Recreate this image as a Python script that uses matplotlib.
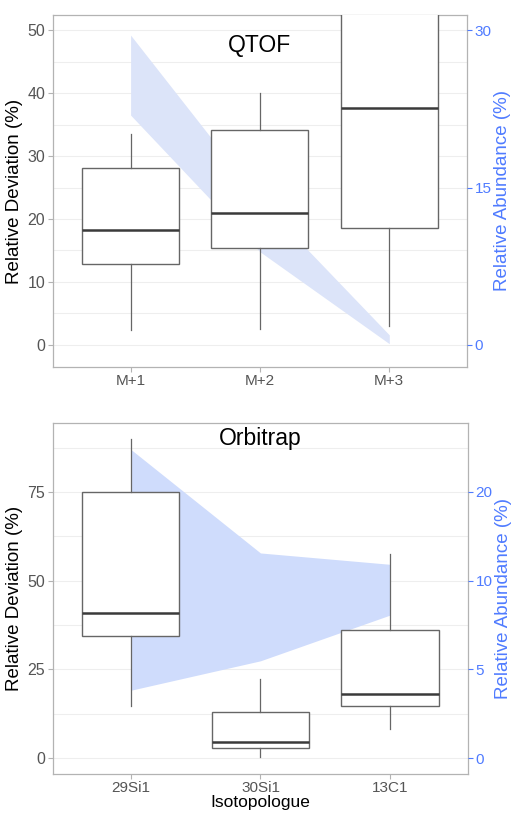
import matplotlib.pyplot as plt

plt.rcParams['font.family'] = ['Liberation Sans', 'DejaVu Sans']

# QTOF relative deviation box statistics (%)
qtof_labels = ['M+1', 'M+2', 'M+3']
qtof_whislo = [2.3, 2.6, 3.0]
qtof_q1 = [12.8, 15.4, 18.6]
qtof_med = [18.2, 21.0, 37.7]
qtof_q3 = [28.1, 34.2, 65.0]
qtof_whishi = [33.5, 40.0, 90.0]
# abundance band, in deviation-axis units
qtof_band_lo = [36.5, 14.8, 0.2]
qtof_band_hi = [49.2, 23.0, 1.6]
qtof_right_ticks = [0, 25, 50]
qtof_right_labels = ['0', '15', '30']

# Orbitrap relative deviation box statistics (%)
orbi_labels = ['29Si1', '30Si1', '13C1']
orbi_whislo = [14.7, 0.2, 8.1]
orbi_q1 = [34.5, 2.8, 14.7]
orbi_med = [40.9, 4.6, 18.1]
orbi_q3 = [75.0, 13.0, 36.2]
orbi_whishi = [90.0, 22.4, 57.4]
orbi_band_lo = [19.1, 27.4, 40.3]
orbi_band_hi = [87.0, 57.8, 54.6]
orbi_right_ticks = [0, 25, 50, 75]
orbi_right_labels = ['0', '5', '10', '20']

BLUE = '#4f7bff'
GRID = '#eeeeee'
BORDER = '#b3b3b3'


def draw_panel(ax, labels, whislo, q1, med, q3, whishi, band_lo, band_hi,
               ylim, major, minor, right_ticks, right_labels, title,
               title_y, band_color):
    pos = list(range(1, len(labels) + 1))
    ax.fill_between(pos, band_lo, band_hi, color=band_color, lw=0, zorder=1)

    stats = []
    for i, lab in enumerate(labels):
        stats.append({'label': lab, 'whislo': whislo[i], 'q1': q1[i],
                      'med': med[i], 'q3': q3[i], 'whishi': whishi[i]})
    ax.bxp(stats, positions=pos, widths=0.75, patch_artist=True,
           showfliers=False, showcaps=False,
           boxprops=dict(facecolor='white', edgecolor='#666666', lw=1.0),
           medianprops=dict(color='#3a3a3a', lw=1.8),
           whiskerprops=dict(color='#666666', lw=0.9),
           zorder=3)

    ax.set_xlim(0.4, len(labels) + 0.6)
    ax.set_ylim(*ylim)
    ax.set_yticks(major)
    ax.set_yticks(minor, minor=True)
    ax.grid(axis='y', which='both', color=GRID, lw=0.8, zorder=0)
    ax.set_axisbelow(True)
    ax.set_xticks(pos)
    ax.set_xticklabels(labels)
    ax.tick_params(axis='y', which='major', colors='#555555',
                   labelsize=11.5, length=3.5, width=0.8, pad=2)
    ax.tick_params(axis='x', which='major', colors='#555555',
                   labelsize=11, length=3.5, width=0.8, pad=1.5)
    ax.tick_params(axis='both', which='both', color=BORDER)
    ax.tick_params(axis='y', which='minor', length=0)
    for s in ax.spines.values():
        s.set_color(BORDER)
        s.set_linewidth(0.9)
    ax.set_ylabel('Relative Deviation (%)', fontsize=13.5, labelpad=3)

    ax.text((len(labels) + 1) / 2, title_y, title, ha='center', va='center',
            fontsize=16.5, zorder=5)

    ax2 = ax.twinx()
    ax2.set_ylim(*ylim)
    ax2.set_yticks(right_ticks)
    ax2.set_yticklabels(right_labels)
    ax2.tick_params(axis='y', colors=BLUE, labelsize=11, length=3.5,
                    width=0.8, pad=2)
    for s in ax2.spines.values():
        s.set_visible(False)
    ax2.set_ylabel('Relative Abundance (%)', fontsize=13.5, color=BLUE,
                   labelpad=2)
    return ax2


fig = plt.figure(figsize=(5.11, 8.13), dpi=100)
ax_top = fig.add_axes([0.1037, 0.5486, 0.810, 0.433])
ax_bot = fig.add_axes([0.1037, 0.0480, 0.812, 0.432])

draw_panel(ax_top, qtof_labels, qtof_whislo, qtof_q1, qtof_med, qtof_q3,
           qtof_whishi, qtof_band_lo, qtof_band_hi, (-3.5, 52.4),
           [0, 10, 20, 30, 40, 50], [5, 15, 25, 35, 45],
           qtof_right_ticks, qtof_right_labels, 'QTOF', 47.6, '#dce4f9')

draw_panel(ax_bot, orbi_labels, orbi_whislo, orbi_q1, orbi_med, orbi_q3,
           orbi_whishi, orbi_band_lo, orbi_band_hi, (-4.5, 94.5),
           [0, 25, 50, 75], [12.5, 37.5, 62.5, 87.5],
           orbi_right_ticks, orbi_right_labels, 'Orbitrap', 90.0, '#cfdcfc')
ax_bot.set_xlabel('Isotopologue', fontsize=12.5, labelpad=0)

fig.savefig('out.png', dpi=100)
